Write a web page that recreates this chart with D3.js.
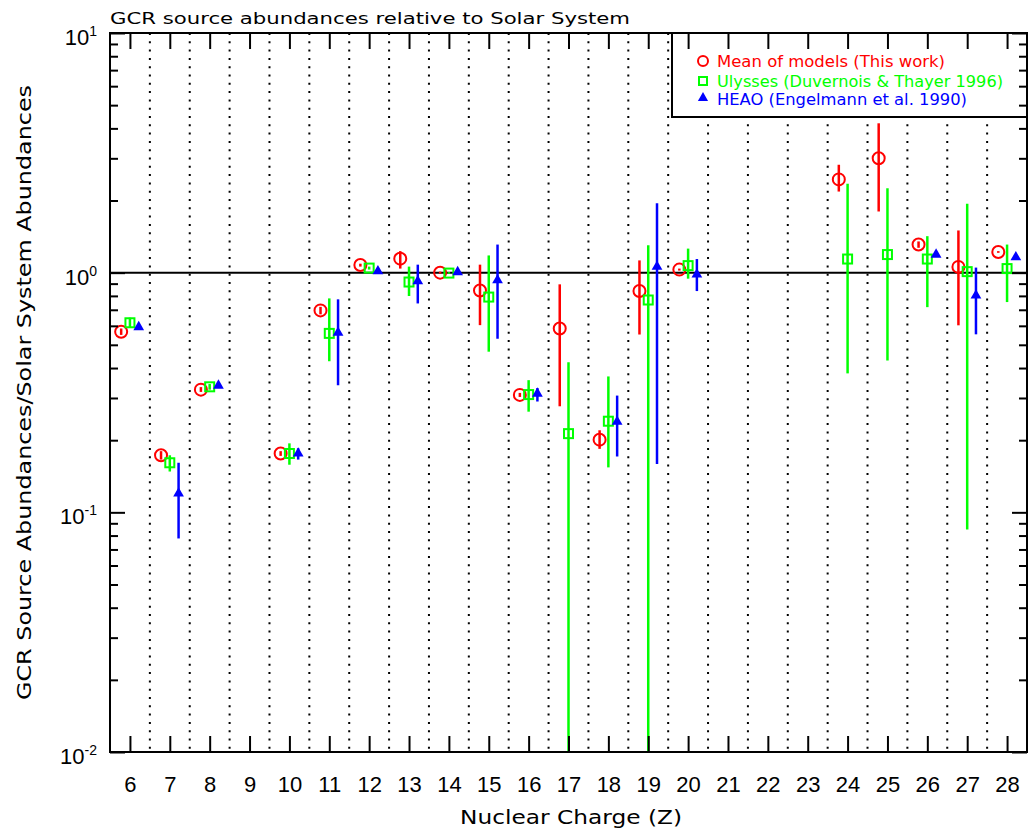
<!DOCTYPE html>
<html>
<head>
<meta charset="utf-8">
<script src="https://cdn.jsdelivr.net/npm/d3@7"></script>
<style>
  html, body { margin: 0; padding: 0; background: #fff; }
  svg { display: block; }
</style>
</head>
<body>
<script>
// ---------- data ----------
const zTicks = [6,7,8,9,10,11,12,13,14,15,16,17,18,19,20,21,22,23,24,25,26,27,28];
const yMajor = [0.01, 0.1, 1, 10];
const yMajorExp = ["-2", "-1", "0", "1"];

// Mean of models (This work)
const zRed   = [6, 7, 8, 10, 11, 12, 13, 14, 15, 16, 17, 18, 19, 20, 24, 25, 26, 27, 28];
const redVal = [0.567, 0.173, 0.325, 0.176, 0.696, 1.076, 1.144, 1.0, 0.843, 0.309, 0.585, 0.201, 0.838, 1.03, 2.45, 3.0, 1.31, 1.057, 1.22];
const redLo  = [0.55, 0.166, 0.318, 0.172, 0.67, 1.06, 1.04, 0.99, 0.604, 0.303, 0.277, 0.184, 0.552, 1.02, 2.18, 1.8, 1.27, 0.603, 1.21];
const redHi  = [0.585, 0.180, 0.333, 0.180, 0.72, 1.09, 1.23, 1.01, 1.08, 0.315, 0.894, 0.220, 1.125, 1.04, 2.82, 4.2, 1.35, 1.50, 1.23];

// Ulysses (Duvernois & Thayer 1996)
const zGreen   = [6, 7, 8, 10, 11, 12, 13, 14, 15, 16, 17, 18, 19, 20, 24, 25, 26, 27, 28];
const greenVal = [0.618, 0.161, 0.334, 0.176, 0.558, 1.045, 0.914, 0.996, 0.791, 0.310, 0.213, 0.240, 0.769, 1.07, 1.14, 1.19, 1.14, 1.01, 1.04];
const greenLo  = [0.589, 0.148, 0.325, 0.158, 0.427, 1.03, 0.799, 0.99, 0.468, 0.263, 0.001, 0.154, 0.001, 0.944, 0.380, 0.43, 0.718, 0.0848, 0.754];
const greenHi  = [0.649, 0.173, 0.343, 0.194, 0.781, 1.06, 1.06, 1.005, 1.18, 0.356, 0.423, 0.369, 1.30, 1.26, 2.35, 2.25, 1.42, 1.94, 1.31];

// HEAO (Engelmann et al. 1990)
const zBlue   = [6, 7, 8, 10, 11, 12, 13, 14, 15, 16, 18, 19, 20, 26, 27, 28];
const blueVal = [0.593, 0.120, 0.338, 0.176, 0.562, 1.015, 0.922, 1.006, 0.931, 0.313, 0.239, 1.06, 0.984, 1.19, 0.804, 1.16];
const blueLo  = [0.593, 0.0778, 0.338, 0.166, 0.339, 1.015, 0.744, 1.006, 0.530, 0.29, 0.171, 0.159, 0.838, 1.19, 0.553, 1.16];
const blueHi  = [0.593, 0.161, 0.338, 0.185, 0.774, 1.015, 1.08, 1.006, 1.31, 0.33, 0.307, 1.95, 1.14, 1.19, 1.05, 1.16];

const legendLabels = ["Mean of models (This work)", "Ulysses (Duvernois & Thayer 1996)", "HEAO (Engelmann et al. 1990)"];
const titleText = "GCR source abundances relative to Solar System";
const xTitle = "Nuclear Charge (Z)";
const yTitle = "GCR Source Abundances/Solar System Abundances";

// ---------- layout ----------
const W = 1030, H = 831;
const L = 110, R = 1027, T = 33, B = 752;
const RED = "#ff0000", GREEN = "#00ff00", BLUE = "#0000ff";
const hershey = "'DejaVu Sans', Verdana, sans-serif";
const helv = "'Liberation Sans', Arial, sans-serif";

const svg = d3.select("body").append("svg").attr("width", W).attr("height", H);

const x = d3.scaleLinear().domain([5.5, 28.5]).range([L, R]);
const y = d3.scaleLog().domain([0.01, 10]).range([B, T]);

svg.append("defs").append("clipPath").attr("id", "plotclip")
  .append("rect").attr("x", L).attr("y", T).attr("width", R - L).attr("height", B - T);

// dotted separators between charges
const seps = zTicks.slice(0, -1).map(z => z + 0.5);
svg.append("g").selectAll("line").data(seps).join("line")
  .attr("x1", d => x(d)).attr("x2", d => x(d))
  .attr("y1", T).attr("y2", B)
  .attr("stroke", "#000").attr("stroke-width", 2)
  .attr("stroke-dasharray", "2,6.3");

// reference line at 1
svg.append("line")
  .attr("x1", L).attr("x2", R).attr("y1", y(1)).attr("y2", y(1))
  .attr("stroke", "#000").attr("stroke-width", 2);

// legend box
svg.append("rect").attr("x", 672).attr("y", T).attr("width", R - 672).attr("height", 84)
  .attr("fill", "#fff").attr("stroke", "#000").attr("stroke-width", 2);

// ---------- data ----------
const off = 0.22;
const plot = svg.append("g").attr("clip-path", "url(#plotclip)");

function series(zs, vals, lo, hi, dz, color, kind) {
  const g = plot.append("g");
  const d = zs.map((z, i) => ({ z, v: vals[i], lo: lo[i], hi: hi[i] }));
  g.selectAll("line").data(d.filter(e => e.lo !== e.hi)).join("line")
    .attr("x1", e => x(e.z + dz)).attr("x2", e => x(e.z + dz))
    .attr("y1", e => y(Math.max(e.lo, 0.001))).attr("y2", e => y(e.hi))
    .attr("stroke", color).attr("stroke-width", 2.5);
  if (kind === "circle") {
    g.selectAll("circle").data(d).join("circle")
      .attr("cx", e => x(e.z + dz)).attr("cy", e => y(e.v)).attr("r", 6)
      .attr("fill", "none").attr("stroke", color).attr("stroke-width", 2);
  } else if (kind === "square") {
    g.selectAll("rect").data(d).join("rect")
      .attr("x", e => x(e.z + dz) - 4.5).attr("y", e => y(e.v) - 4.5)
      .attr("width", 9).attr("height", 9)
      .attr("fill", "none").attr("stroke", color).attr("stroke-width", 2);
  } else {
    g.selectAll("path").data(d).join("path")
      .attr("transform", e => `translate(${x(e.z + dz)},${y(e.v)})`)
      .attr("d", d3.symbol(d3.symbolTriangle, 50)())
      .attr("fill", color);
  }
}
series(zRed, redVal, redLo, redHi, -off, RED, "circle");
series(zGreen, greenVal, greenLo, greenHi, 0, GREEN, "square");
series(zBlue, blueVal, blueLo, blueHi, off, BLUE, "triangle");

// ---------- axes ----------
const minor = [];
for (let e = -2; e < 1; e++) for (let m = 2; m <= 9; m++) minor.push(m * Math.pow(10, e));

function styleAxis(g) {
  g.select(".domain").remove();
  g.selectAll(".tick line").attr("stroke", "#000").attr("stroke-width", 2);
}

svg.append("g").attr("transform", `translate(0,${B})`)
  .call(d3.axisBottom(x).tickValues(zTicks).tickSize(-16).tickSizeOuter(0).tickPadding(24.5).tickFormat(d3.format("d")))
  .call(styleAxis)
  .call(g => g.selectAll("text").attr("font-family", helv).attr("font-size", 22).attr("fill", "#000"));

svg.append("g").attr("transform", `translate(0,${T})`)
  .call(d3.axisTop(x).tickValues(zTicks).tickSize(-16).tickSizeOuter(0).tickFormat(""))
  .call(styleAxis);

svg.append("g").attr("transform", `translate(${L},0)`)
  .call(d3.axisLeft(y).tickValues(yMajor).tickSize(-15).tickSizeOuter(0).tickFormat(""))
  .call(styleAxis);
svg.append("g").attr("transform", `translate(${L},0)`)
  .call(d3.axisLeft(y).tickValues(minor).tickSize(-8).tickSizeOuter(0).tickFormat(""))
  .call(styleAxis);
svg.append("g").attr("transform", `translate(${R},0)`)
  .call(d3.axisRight(y).tickValues(yMajor).tickSize(-15).tickSizeOuter(0).tickFormat(""))
  .call(styleAxis);
svg.append("g").attr("transform", `translate(${R},0)`)
  .call(d3.axisRight(y).tickValues(minor).tickSize(-8).tickSizeOuter(0).tickFormat(""))
  .call(styleAxis);

// frame
svg.append("rect").attr("x", L).attr("y", T).attr("width", R - L).attr("height", B - T)
  .attr("fill", "none").attr("stroke", "#000").attr("stroke-width", 2);

// y tick labels 10^n
yMajor.forEach((v, i) => {
  const t = svg.append("text")
    .attr("x", 97).attr("y", y(v) + 12)
    .attr("text-anchor", "end")
    .attr("font-family", helv).attr("font-size", 22).attr("fill", "#000");
  t.append("tspan").text("10");
  t.append("tspan").attr("font-size", 14).attr("dy", -9).text(yMajorExp[i]);
});

// titles
svg.append("text").attr("x", 110).attr("y", 24)
  .attr("font-family", hershey).attr("font-size", 16)
  .attr("textLength", 520).attr("lengthAdjust", "spacingAndGlyphs")
  .text(titleText);

svg.append("text").attr("x", 460).attr("y", 824)
  .attr("font-family", hershey).attr("font-size", 19)
  .attr("textLength", 222).attr("lengthAdjust", "spacingAndGlyphs")
  .text(xTitle);

svg.append("text")
  .attr("transform", `translate(31,${(T + B) / 2}) rotate(-90)`)
  .attr("text-anchor", "middle")
  .attr("font-family", hershey).attr("font-size", 19)
  .attr("textLength", 615).attr("lengthAdjust", "spacingAndGlyphs")
  .text(yTitle);

// legend entries
const legY = [61, 81, 98];
const legBase = [66.5, 86.5, 105];
const legW = [228, 286, 250];
const legC = [RED, GREEN, BLUE];
svg.append("circle").attr("cx", 703).attr("cy", legY[0]).attr("r", 5)
  .attr("fill", "none").attr("stroke", RED).attr("stroke-width", 2);
svg.append("rect").attr("x", 703 - 4).attr("y", legY[1] - 4).attr("width", 8).attr("height", 8)
  .attr("fill", "none").attr("stroke", GREEN).attr("stroke-width", 2);
svg.append("path").attr("transform", `translate(703,${legY[2]})`)
  .attr("d", d3.symbol(d3.symbolTriangle, 45)()).attr("fill", BLUE);
legendLabels.forEach((s, i) => {
  svg.append("text").attr("x", 717).attr("y", legBase[i])
    .attr("font-family", hershey).attr("font-size", 15).attr("fill", legC[i])
    .attr("textLength", legW[i]).attr("lengthAdjust", "spacingAndGlyphs")
    .text(s);
});
</script>
</body>
</html>
